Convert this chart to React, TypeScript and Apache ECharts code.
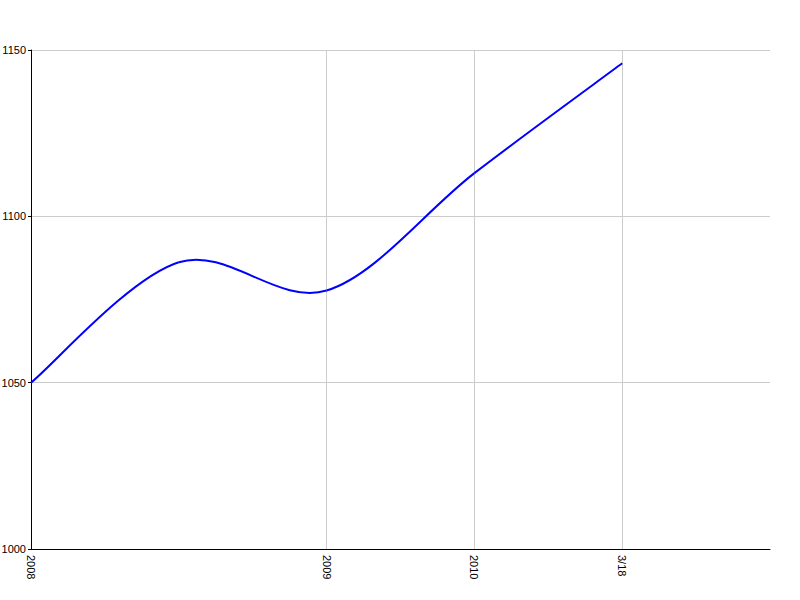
import React, { useEffect, useRef } from "react";
import * as echarts from "echarts";

const categories = ["2008", "", "2009", "2010", "3/18", ""];
const values: number[] = [1050, 1086.2, 1077.7, 1113, 1146];
const yTicks = [1000, 1050, 1100, 1150];

export default function App() {
  const ref = useRef<HTMLDivElement>(null);
  useEffect(() => {
    if (!ref.current) return;
    const chart = echarts.init(ref.current, null, { renderer: "svg" });
    const n = values.length;
    const font = "Arial";
    chart.setOption({
      animation: false,
      backgroundColor: "#ffffff",
      grid: {
        left: 31,
        right: 30,
        top: 50,
        bottom: 51,
        containLabel: false,
        outerBoundsMode: "none",
      },
      xAxis: {
        type: "category",
        data: categories,
        boundaryGap: false,
        axisLine: { show: true, lineStyle: { color: "#000", width: 1 } },
        axisTick: { show: false },
        axisLabel: {
          interval: 0,
          rotate: -90,
          color: "#000",
          fontFamily: font,
          fontSize: 11,
          margin: 6,
        },
        splitLine: {
          show: true,
          interval: (index: number, value: string) => index !== 0 && value !== "",
          lineStyle: { color: "#cccccc", width: 1 },
        },
      },
      yAxis: {
        type: "value",
        min: yTicks[0],
        max: yTicks[yTicks.length - 1],
        interval: 50,
        axisLine: { show: true, lineStyle: { color: "#000", width: 1 } },
        axisTick: { show: true, length: 3, lineStyle: { color: "#000" } },
        axisLabel: {
          color: "#000",
          fontFamily: font,
          fontSize: 11,
          margin: 5,
          formatter: (v: number) => String(v),
        },
        splitLine: { show: true, lineStyle: { color: "#cccccc", width: 1 } },
      },
      series: [
        {
          type: "custom",
          data: values.map((v, i) => [i, v]),
          encode: { x: 0, y: 1 },
          renderItem: (params: any, api: any) => {
            const i = params.dataIndex;
            if (i >= n - 1) return null;
            const pt = (k: number) => {
              const kk = Math.max(0, Math.min(n - 1, k));
              return api.coord([kk, values[kk]]);
            };
            const p0 = pt(i - 1);
            const p1 = pt(i);
            const p2 = pt(i + 1);
            const p3 = pt(i + 2);
            const t = 1 / 6;
            return {
              type: "bezierCurve",
              shape: {
                x1: p1[0],
                y1: p1[1],
                cpx1: p1[0] + (p2[0] - p0[0]) * t,
                cpy1: p1[1] + (p2[1] - p0[1]) * t,
                cpx2: p2[0] - (p3[0] - p1[0]) * t,
                cpy2: p2[1] - (p3[1] - p1[1]) * t,
                x2: p2[0],
                y2: p2[1],
              },
              style: { stroke: "#0000ff", lineWidth: 2, fill: "none" },
            };
          },
        },
      ],
    });
    return () => chart.dispose();
  }, []);
  return (
    <div
      ref={ref}
      style={{ position: "absolute", left: 0, top: 0, width: 800, height: 600 }}
    />
  );
}
